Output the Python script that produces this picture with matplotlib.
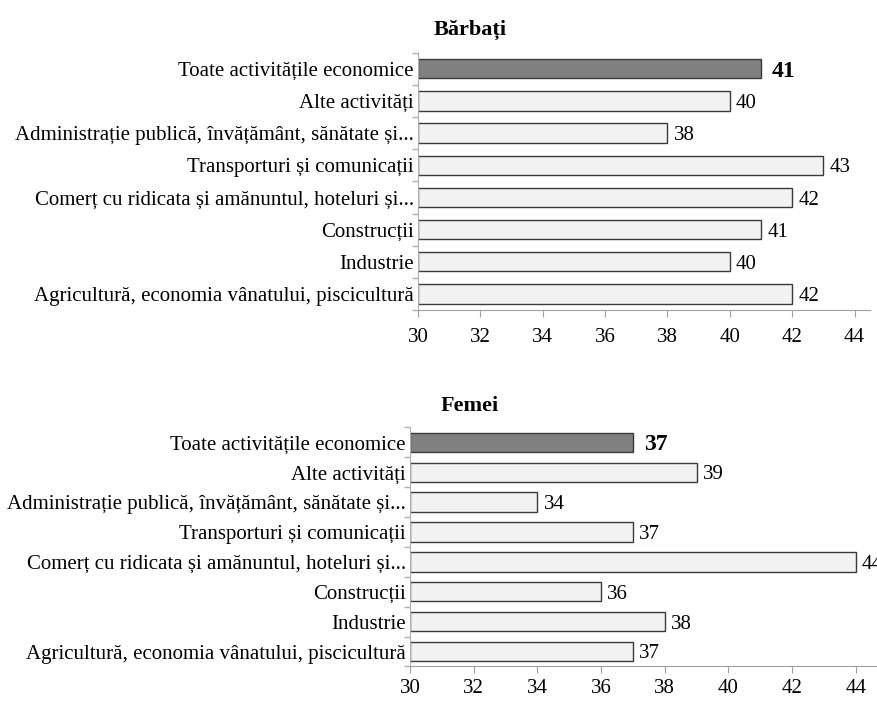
import numpy as np
import matplotlib.pyplot as plt
from matplotlib.ticker import FixedLocator

categories = ['Toate activitățile economice',
              'Alte activități',
              'Administrație publică, învățământ, sănătate și...',
              'Transporturi și comunicații',
              'Comerț cu ridicata și amănuntul, hoteluri și...',
              'Construcții',
              'Industrie',
              'Agricultură, economia vânatului, piscicultură']
barbati = [41, 40, 38, 43, 42, 41, 40, 42]
femei = [37, 39, 34, 37, 44, 36, 38, 37]
xticks = [30, 32, 34, 36, 38, 40, 42, 44]

plt.rcParams['font.family'] = ['Liberation Serif', 'DejaVu Serif']
fig = plt.figure(figsize=(8.78, 7.03), dpi=100)

def draw(ax, values, xmax, height, xpad):
    n = len(values)
    y = np.arange(n)
    colors = ['#808080'] + ['#f2f2f2'] * (n - 1)
    ax.barh(y, [v - 30 for v in values], left=30, height=height, color=colors,
            edgecolor='#3a3a3a', linewidth=1.0)
    ax.set_ylim(n - 0.5, -0.5)
    ax.set_xlim(30, xmax)
    ax.set_yticks(y)
    ax.set_yticklabels(categories, fontsize=15)
    ax.tick_params(axis='y', which='major', length=0, pad=3)
    ax.yaxis.set_minor_locator(FixedLocator(np.arange(n + 1) - 0.5))
    ax.tick_params(axis='y', which='minor', length=4, color='#b0b0b0', width=1)
    ax.set_xticks(xticks)
    ax.tick_params(axis='x', length=5, color='#a0a0a0', labelsize=15, pad=xpad)
    for s in ['top', 'right']:
        ax.spines[s].set_visible(False)
    ax.spines['left'].set_color('#b0b0b0')
    ax.spines['bottom'].set_color('#a0a0a0')
    for i, v in enumerate(values):
        if i == 0:
            ax.text(v + 0.35, i + 0.08, str(v), va='center', ha='left',
                    fontsize=17, fontweight='bold')
        else:
            ax.text(v + 0.2, i + 0.08, str(v), va='center', ha='left', fontsize=15)

ax1 = fig.add_axes([0.476, 0.559, 0.515, 0.366])
draw(ax1, barbati, 44.5, 0.6, 8)
ax2 = fig.add_axes([0.467, 0.052, 0.533, 0.340])
draw(ax2, femei, 44.7, 0.65, 4)

fig.text(0.535, 0.958, 'Bărbați', ha='center', va='center', fontsize=16, fontweight='bold')
fig.text(0.535, 0.422, 'Femei', ha='center', va='center', fontsize=16, fontweight='bold')

fig.savefig('out.png', dpi=100)
